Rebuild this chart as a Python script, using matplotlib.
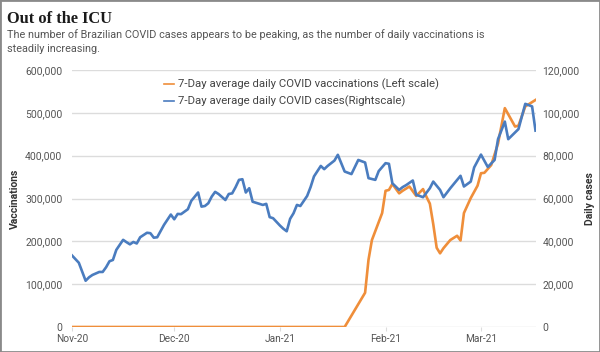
import numpy as np
import matplotlib
matplotlib.use('Agg')
from matplotlib import pyplot, patches, ticker
import matplotlib.dates as mdates

START = np.datetime64('2020-11-01')

# 7-day average daily COVID cases (right scale), day offset from Nov 1 2020
case_days = [0, 2, 4, 5, 6, 8, 9, 10, 11, 12, 13, 15, 16, 17, 18, 19, 20, 22, 23, 24,
             25, 27, 29, 30, 31, 32, 34, 35, 37, 38, 39, 40, 41, 42, 43, 45, 46, 47, 48, 49,
             50, 51, 52, 53, 55, 56, 57, 58, 59, 61, 62, 63, 64, 65, 66, 67, 69, 70, 71, 73,
             74, 75, 77, 78, 80, 82, 83, 84, 86, 87, 89, 90, 92, 93, 94, 96, 97, 98, 100, 101,
             102, 103, 105, 106, 108, 109, 111, 114, 115, 117, 118, 120, 122, 124, 125, 127, 128, 131, 133, 135,
             136]
cases = [33400, 30000, 21600, 23200, 24300, 25700, 25700, 27900, 30700, 31300, 36000, 40700, 39600, 38600, 39700, 39000, 41900, 44000, 43800, 41700,
         41900, 47700, 52500, 50300, 52800, 52700, 55000, 58900, 62800, 56200, 56500, 57800, 60900, 63100, 62100, 59300, 62100, 62400, 65300, 68700,
         69000, 62800, 64800, 58500, 57500, 57000, 57500, 51300, 50800, 47400, 45900, 44700, 50500, 53100, 57000, 56500, 61200, 65300, 70300, 75200,
         73700, 75200, 77700, 80400, 72600, 71400, 74700, 78000, 76800, 69500, 68700, 72800, 76500, 76200, 67100, 64000, 65300, 66200, 68400, 61700,
         61200, 60600, 64800, 67900, 64000, 60600, 64800, 70600, 65600, 67900, 74500, 80500, 74700, 78000, 87700, 95900, 87700, 92400, 104200, 103000,
         91700]

# 7-day average daily COVID vaccinations (left scale)
vacc_days = [0, 80, 86, 87, 88, 91, 92, 93, 94, 96, 97, 99, 101, 103, 104, 105, 106, 107, 108, 109,
             111, 113, 114, 115, 117, 119, 120, 121, 123, 125, 127, 130, 131, 133, 136]
vaccinations = [0, 0, 80000, 157000, 203000, 266000, 318000, 320000, 334000, 312000, 318000, 328000, 306000, 322000, 304000, 288000, 240000, 185000, 172000, 184000,
                203000, 213000, 202000, 266000, 301000, 330000, 359000, 360000, 378000, 428000, 511000, 468000, 470000, 515000, 530000]

month_ticks = ['2020-11-01', '2020-12-01', '2021-01-01', '2021-02-01', '2021-03-01']

ORANGE = '#EF8E3A'
BLUE = '#4A7CBF'
GRID = '#DCDCDC'
TICK_TXT = '#555555'
FONT = 'Roboto'

fig = pyplot.figure(figsize=(6, 3.52), dpi=100)
W, H = 600, 352

ax = fig.add_axes([72 / W, 1 - 327 / H, (535.5 - 72) / W, (327 - 70) / H])
ax2 = ax.twinx()

vx = START + np.array(vacc_days, dtype='timedelta64[D]')
cx = START + np.array(case_days, dtype='timedelta64[D]')

l1, = ax.plot(vx, vaccinations, color=ORANGE, lw=1.9, solid_joinstyle='round',
              label='7-Day average daily COVID vaccinations (Left scale)')
l2, = ax2.plot(cx, cases, color=BLUE, lw=1.9, solid_joinstyle='round',
               label='7-Day average daily COVID cases(Rightscale)')

ax.set_xlim(START, START + np.timedelta64(136, 'D'))
ax.set_ylim(0, 600000)
ax2.set_ylim(0, 120000)
ax.set_yticks(np.arange(0, 600001, 100000))
ax2.set_yticks(np.arange(0, 120001, 20000))
ax.yaxis.set_major_formatter(ticker.StrMethodFormatter('{x:,.0f}'))
ax2.yaxis.set_major_formatter(ticker.StrMethodFormatter('{x:,.0f}'))

ax.set_xticks([np.datetime64(d) for d in month_ticks])
ax.xaxis.set_major_formatter(mdates.DateFormatter('%b-%y'))

ax.grid(axis='y', color=GRID, lw=1)
ax.set_axisbelow(True)
for a in (ax, ax2):
    for s in a.spines.values():
        s.set_visible(False)
    a.tick_params(axis='y', length=0, labelsize=7.5, labelcolor=TICK_TXT)
ax.tick_params(axis='y', pad=7)
ax2.tick_params(axis='y', pad=5)
ax.tick_params(axis='x', length=3, color=GRID, labelsize=7.3, labelcolor=TICK_TXT, pad=2)
for lab in ax.get_xticklabels() + ax.get_yticklabels() + ax2.get_yticklabels():
    lab.set_fontfamily(FONT)

ax.set_ylabel('Vaccinations', fontfamily=FONT, fontweight='bold', fontsize=7.5, color='#333333', labelpad=4)
ax2.set_ylabel('Daily cases', fontfamily=FONT, fontweight='bold', fontsize=7.5, color='#333333', labelpad=4)

ax2.legend(handles=[l1, l2], loc='upper left', bbox_to_anchor=(164 / W, 1 - 79 / H),
           bbox_transform=fig.transFigure, frameon=False, handlelength=0.9, handletextpad=0.3,
           borderaxespad=0, borderpad=0, labelspacing=0.45,
           prop={'family': FONT, 'size': 8.2}, labelcolor='#444444')
for h in ax2.get_legend().get_lines():
    h.set_linewidth(1.2)

fig.text(7 / W, 1 - 23 / H, 'Out of the ICU', fontfamily='Liberation Serif', fontweight='bold',
         fontsize=11.8, color='#1a1a1a', va='baseline')
fig.text(7 / W, 1 - 38 / H,
         'The number of Brazilian COVID cases appears to be peaking, as the number of daily vaccinations is',
         fontfamily=FONT, fontsize=7.85, color='#555555', va='baseline')
fig.text(7 / W, 1 - 52 / H, 'steadily increasing.',
         fontfamily=FONT, fontsize=7.85, color='#555555', va='baseline')

fig.patches.append(patches.Rectangle((0, 0), 1, 1, transform=fig.transFigure, fill=False,
                                     edgecolor='#8a8a8a', linewidth=2))

fig.savefig('out.png', dpi=100)
